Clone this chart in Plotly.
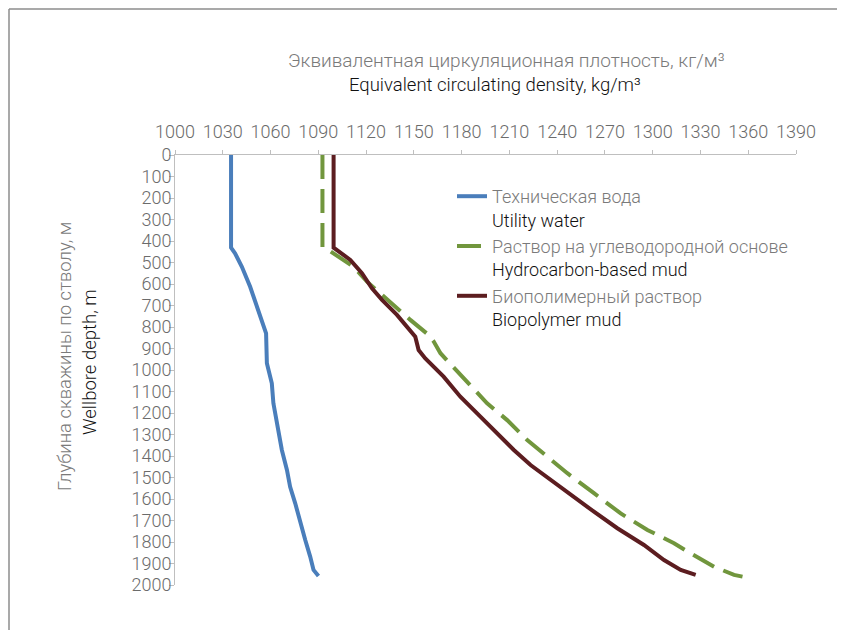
import plotly.graph_objects as go

# ---- data ----
water_ecd = [1035.2, 1035.2, 1037.7, 1042.0, 1047.2, 1051.4, 1054.5, 1057.2, 1057.7, 1060.8,
             1061.8, 1065.0, 1067.1, 1070.3, 1072.3, 1075.5, 1078.6, 1081.8, 1084.9, 1087.0, 1090.1]
water_depth = [0, 431, 457, 520, 613, 706, 767, 829, 969, 1062,
               1155, 1279, 1372, 1465, 1543, 1620, 1713, 1791, 1868, 1930, 1958]

hc_ecd = [1092.6, 1092.6, 1095.4, 1103.8, 1112.1, 1120.6, 1128.9, 1135.2, 1147.8, 1159.3,
          1162.5, 1166.7, 1177.2, 1191.8, 1196.0, 1208.6, 1221.2, 1233.8, 1246.4, 1263.1,
          1279.9, 1296.7, 1313.4, 1323.9, 1338.6, 1351.1, 1356.4]
hc_depth = [0, 431, 437, 480, 520, 589, 643, 690, 767, 837,
            868, 922, 1008, 1124, 1155, 1233, 1326, 1403, 1480, 1573,
            1667, 1744, 1806, 1853, 1915, 1953, 1961]

bio_ecd = [1099.6, 1099.6, 1110.1, 1117.4, 1123.7, 1130.0, 1139.4, 1148.9, 1150.9, 1153.0,
           1157.2, 1168.7, 1179.2, 1191.8, 1204.4, 1212.8, 1223.3, 1235.8, 1248.4, 1263.1,
           1277.8, 1294.5, 1307.1, 1317.6, 1327.0]
bio_depth = [0, 431, 488, 550, 620, 674, 744, 822, 845, 907,
             946, 1031, 1124, 1217, 1310, 1372, 1442, 1512, 1581, 1659,
             1736, 1814, 1884, 1930, 1953]

x_ticks = list(range(1000, 1391, 30))
y_ticks = list(range(0, 2001, 100))

names_ru = ["Техническая вода", "Раствор на углеводородной основе", "Биополимерный раствор"]
names_en = ["Utility water", "Hydrocarbon-based mud", "Biopolymer mud"]

GRAY = "#7a7a7a"
DARK = "#111111"
FONT = "Roboto"


def legend_name(ru, en):
    return (f"<span style='color:{GRAY}'>{ru}</span><br>"
            f"<span style='color:{DARK}'>{en}</span>")


fig = go.Figure()
fig.add_trace(go.Scatter(x=water_ecd, y=water_depth, mode="lines",
                         name=legend_name(names_ru[0], names_en[0]),
                         line=dict(color="#4A7EBB", width=4)))
fig.add_trace(go.Scatter(x=hc_ecd, y=hc_depth, mode="lines",
                         name=legend_name(names_ru[1], names_en[1]),
                         line=dict(color="#71963D", width=4, dash="24px,10px")))
fig.add_trace(go.Scatter(x=bio_ecd, y=bio_depth, mode="lines",
                         name=legend_name(names_ru[2], names_en[2]),
                         line=dict(color="#5C1D20", width=4)))

# page body adds an 8px offset; work in reference pixels and subtract it
OFF = 8
W, H = 845 - OFF, 630 - OFF
PX0, PX1 = 175, 796     # reference pixel x of plot left/right
PY0, PY1 = 155, 585     # reference pixel y of plot top/bottom
L, R = PX0 - OFF, W - (PX1 - OFF)
T, B = PY0 - OFF, H - (PY1 - OFF)
pw, ph = PX1 - PX0, PY1 - PY0


def px2x(px):
    return (px - PX0) / pw


def py2y(py):
    return (PY1 - py) / ph


fig.update_layout(
    width=W, height=H,
    margin=dict(l=L, r=R, t=T, b=B),
    paper_bgcolor="white", plot_bgcolor="white",
    font=dict(family=FONT, size=17, color=GRAY, weight=300),
    showlegend=True,
    legend=dict(x=px2x(452), y=py2y(178), xanchor="left", yanchor="top",
                font=dict(family=FONT, size=18, weight=300), valign="top",
                bgcolor="rgba(0,0,0,0)", itemwidth=30),
    xaxis=dict(range=[1000, 1390], side="top", tickvals=x_ticks,
               showgrid=False, zeroline=False, showline=True,
               linecolor="#bfbfbf", linewidth=1, ticks="outside", ticklen=4,
               tickcolor="#bfbfbf",
               tickfont=dict(family=FONT, size=18, color="#6b6b6b", weight=300),
               ticklabelstandoff=5),
    yaxis=dict(range=[2000, 0], tickvals=y_ticks, showgrid=False, zeroline=False,
               showline=True, linecolor="#bfbfbf", linewidth=1, ticks="outside",
               ticklen=5, tickcolor="#bfbfbf",
               tickfont=dict(family=FONT, size=18, color="#6b6b6b", weight=300),
               ticklabelstandoff=-6),
)

fig.add_annotation(text="Эквивалентная циркуляционная плотность, кг/м³",
                   xref="paper", yref="paper", x=px2x(506), y=py2y(60),
                   xanchor="center", yanchor="middle",
                   showarrow=False, font=dict(family=FONT, size=19, color=GRAY, weight=300))
fig.add_annotation(text="Equivalent circulating density, kg/m³",
                   xref="paper", yref="paper", x=px2x(495), y=py2y(85),
                   xanchor="center", yanchor="middle",
                   showarrow=False, font=dict(family=FONT, size=18.5, color=DARK, weight=300))
fig.add_annotation(text="Глубина скважины по стволу, м",
                   xref="paper", yref="paper", x=px2x(65), y=py2y(357), textangle=-90,
                   xanchor="center", yanchor="middle",
                   showarrow=False, font=dict(family=FONT, size=18.5, color=GRAY, weight=300))
fig.add_annotation(text="Wellbore depth, m",
                   xref="paper", yref="paper", x=px2x(90), y=py2y(362), textangle=-90,
                   xanchor="center", yanchor="middle",
                   showarrow=False, font=dict(family=FONT, size=18.5, color=DARK, weight=300))

# chart-area border (top and left edges visible in the reference)
fig.add_shape(type="line", xref="paper", yref="paper",
              x0=px2x(9), x1=px2x(845), y0=py2y(9), y1=py2y(9),
              line=dict(color="#8c8c8c", width=1.5))
fig.add_shape(type="line", xref="paper", yref="paper",
              x0=px2x(9), x1=px2x(9), y0=py2y(9), y1=py2y(630),
              line=dict(color="#8c8c8c", width=1.5))

fig.write_html("out.html")
